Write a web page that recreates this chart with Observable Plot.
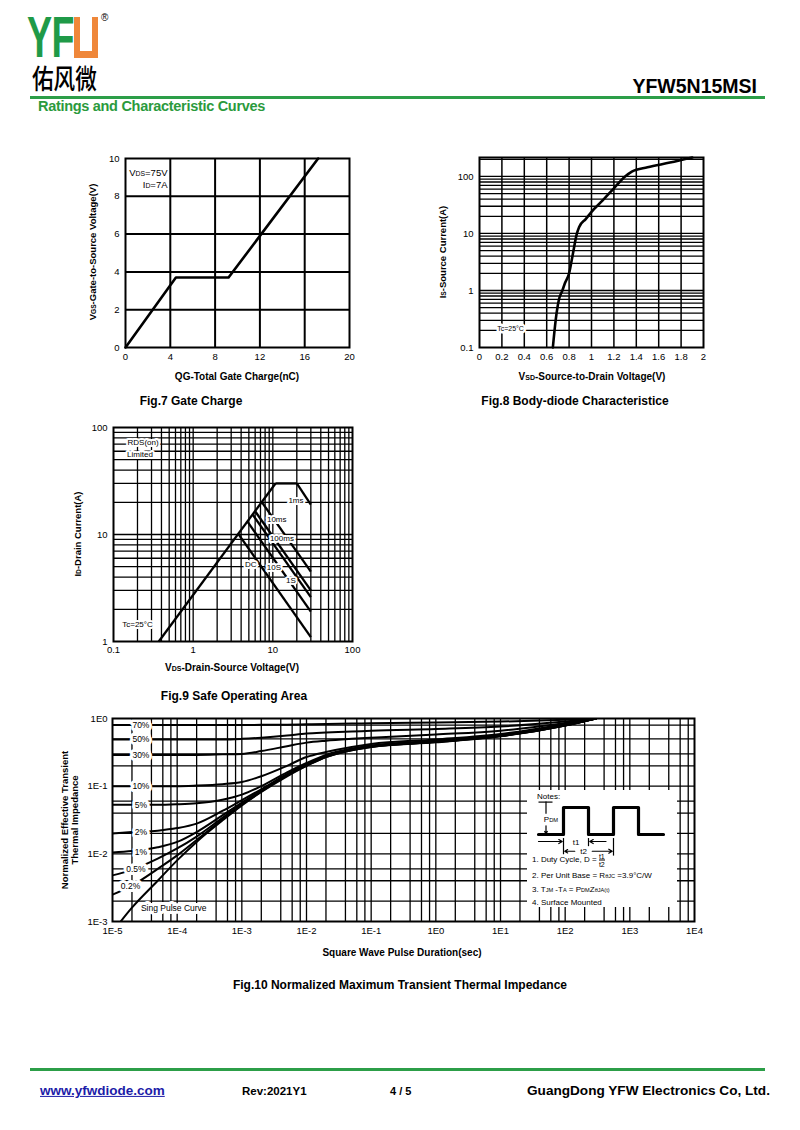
<!DOCTYPE html>
<html><head><meta charset="utf-8">
<script src="https://cdn.jsdelivr.net/npm/d3@7"></script>
<script src="https://cdn.jsdelivr.net/npm/@observablehq/plot@0.6"></script>
<style>
body{margin:0;background:#fff;}
#page{position:relative;width:800px;height:1130px;overflow:hidden;font-family:"Liberation Sans",Arial,sans-serif;color:#000;background:#fff;}
.s{font-size:70%;}
</style></head>
<body><div id="page"></div>
<script>
// ================= DATA =================
// Fig.7 Gate charge
const gateCharge = [0, 4.5, 9.2, 17.2];          // QG (nC)
const gateVoltage = [0, 3.7, 3.7, 10];           // VGS (V)
const gateXTicks = [0, 4, 8, 12, 16, 20];
const gateYTicks = [0, 2, 4, 6, 8, 10];
const gateNote = ["V{DS}=75V", "I{D}=7A"];
const gateNoteQ = [3.75, 3.75];
const gateNoteV = [9.25, 8.6];

// Fig.8 Body-diode characteristic
const diodeVsd = [0.655, 0.68, 0.71, 0.74, 0.76, 0.80, 0.83, 0.87, 0.89, 0.95, 1.0, 1.1, 1.2, 1.3, 1.36, 1.5, 1.7, 1.9];
const diodeIs  = [0.1, 0.3, 0.7, 1.0, 1.3, 2, 4, 10, 13, 18, 24, 38, 62, 100, 122, 145, 175, 215];
const diodeXTicks = [0, 0.2, 0.4, 0.6, 0.8, 1, 1.2, 1.4, 1.6, 1.8, 2];
const diodeYTicks = [0.1, 1, 10, 100];

// Fig.9 Safe operating area (segments)
const soaNames = ["RDS(on)", "Imax", "1ms", "10ms", "100ms", "1s", "10s", "DC"];
const soaV1 = [0.37, 10.8, 20, 7.3, 6.0, 5.6, 4.8, 3.7];
const soaI1 = [1, 30, 30, 20, 16.5, 15.3, 13.2, 10.1];
const soaV2 = [10.8, 20, 30, 30, 30, 30, 30, 30];
const soaI2 = [30, 30, 19, 4.5, 3.0, 2.6, 1.9, 1.1];
const soaXTicks = [0.1, 1, 10, 100];
const soaYTicks = [1, 10, 100];
const soaLabels = ["RDS(on)", "Limited", "1ms", "10ms", "100ms", "DC", "10S", "1S", "Tc=25°C"];
const soaLabelV = [0.235, 0.215, 19.5, 11.2, 13.0, 5.3, 10.3, 16.9, 0.2];
const soaLabelI = [72, 56, 21, 13.7, 9.1, 5.2, 4.9, 3.7, 1.43];

// Fig.10 Transient thermal impedance
const pulseTime = [1e-5, 2e-5, 5e-5, 1e-4, 2e-4, 5e-4, 1e-3, 2e-3, 5e-3, 1e-2, 2e-2, 5e-2, 1e-1, 1, 10, 100, 300];
const duty70  = [0.80, 0.80, 0.80, 0.80, 0.80, 0.80, 0.80, 0.805, 0.81, 0.82, 0.83, 0.84, 0.85, 0.87, 0.90, 0.96, 1.0];
const duty50  = [0.49, 0.49, 0.49, 0.49, 0.49, 0.49, 0.50, 0.52, 0.56, 0.60, 0.62, 0.64, 0.66, 0.70, 0.76, 0.90, 1.0];
const duty30  = [0.29, 0.29, 0.29, 0.29, 0.29, 0.295, 0.30, 0.33, 0.39, 0.44, 0.47, 0.50, 0.52, 0.58, 0.66, 0.86, 1.0];
const duty10  = [0.10, 0.10, 0.10, 0.10, 0.102, 0.107, 0.115, 0.14, 0.20, 0.27, 0.32, 0.38, 0.42, 0.49, 0.59, 0.83, 1.0];
const duty5   = [0.053, 0.053, 0.053, 0.054, 0.056, 0.063, 0.075, 0.10, 0.16, 0.22, 0.29, 0.36, 0.40, 0.47, 0.57, 0.81, 1.0];
const duty2   = [0.020, 0.021, 0.022, 0.024, 0.028, 0.043, 0.062, 0.09, 0.15, 0.21, 0.28, 0.35, 0.39, 0.46, 0.56, 0.80, 1.0];
const duty1   = [0.0105, 0.011, 0.0125, 0.015, 0.021, 0.037, 0.057, 0.087, 0.15, 0.21, 0.28, 0.35, 0.39, 0.455, 0.555, 0.80, 1.0];
const duty05  = [0.0048, 0.0058, 0.0085, 0.012, 0.018, 0.034, 0.055, 0.085, 0.145, 0.205, 0.275, 0.345, 0.385, 0.45, 0.55, 0.79, 1.0];
const duty02  = [0.0025, 0.0034, 0.006, 0.0095, 0.016, 0.032, 0.053, 0.083, 0.145, 0.20, 0.27, 0.34, 0.38, 0.45, 0.55, 0.79, 1.0];
const single  = [0.0007, 0.0016, 0.004, 0.008, 0.015, 0.031, 0.052, 0.082, 0.14, 0.20, 0.27, 0.34, 0.38, 0.445, 0.545, 0.79, 1.0];
const dutyNames = ["70%", "50%", "30%", "10%", "5%", "2%", "1%", "0.5%", "0.2%", "Single"];
const dutyLabelT = [2.75e-5, 2.75e-5, 2.75e-5, 2.75e-5, 2.75e-5, 2.75e-5, 2.75e-5, 2.3e-5, 1.9e-5];
const dutyLabelZ = [0.80, 0.49, 0.29, 0.10, 0.053, 0.021, 0.0104, 0.006, 0.0033];
const thermXTicks = [1e-5, 1e-4, 1e-3, 1e-2, 1e-1, 1, 10, 100, 1000, 10000];
const thermYTicks = [1e-3, 1e-2, 1e-1, 1];
// pulse sketch in the notes box
const pulseStepT = [0, 1, 1, 2, 2, 3, 3, 4, 4, 5];
const pulseStepP = [0, 0, 1, 1, 0, 0, 1, 1, 0, 0];

// ================= HELPERS =================
const page = document.getElementById("page");
const FONT = "Liberation Sans, Arial, sans-serif";
function put(node, left, top) {
  const d = document.createElement("div");
  d.style.cssText = `position:absolute;left:${left}px;top:${top}px;`;
  d.appendChild(node); page.appendChild(d); return d;
}
function txt(html, x, y, o = {}) {
  const d = document.createElement("div");
  const size = o.size ?? 10, w = o.bold === false ? "normal" : "bold";
  const tx = o.anchor === "start" ? "0" : o.anchor === "end" ? "-100%" : "-50%";
  d.style.cssText = `position:absolute;left:${x}px;top:${y}px;font-size:${size}px;font-weight:${w};white-space:nowrap;line-height:1.2;text-align:center;color:${o.color || "#000"};transform:translate(${tx},-50%)${o.rotate ? ` rotate(${o.rotate}deg)` : ""};${o.css || ""}`;
  d.innerHTML = html; page.appendChild(d); return d;
}
function box(x, y, w, h, bg) {
  const d = document.createElement("div");
  d.style.cssText = `position:absolute;left:${x}px;top:${y}px;width:${w}px;height:${h}px;background:${bg};`;
  page.appendChild(d); return d;
}
// turn "V{DS}" into V + small DS inside svg text
function subify(svg) {
  svg.querySelectorAll("text").forEach(t => {
    const s = t.textContent;
    if (!s.includes("{")) return;
    t.textContent = "";
    s.split(/(\{[^}]*\})/).forEach(part => {
      if (!part) return;
      const ts = document.createElementNS("http://www.w3.org/2000/svg", "tspan");
      if (part.startsWith("{")) { ts.textContent = part.slice(1, -1); ts.setAttribute("font-size", "0.72em"); }
      else ts.textContent = part;
      t.appendChild(ts);
    });
  });
  return svg;
}
const minor = (mant, decs) => decs.flatMap(d => mant.map(m => m * d));
const baseStyle = {fontFamily: FONT, fontSize: "9.5px", color: "#000", background: "none", overflow: "visible"};

// ================= HEADER =================
txt("YF", 27, 37, {size: 57, anchor: "start", color: "#1f9a48", css: "line-height:0.68;letter-spacing:-1px;transform:translate(0,-50%) scaleX(0.66);transform-origin:left center;"});
box(74, 17, 24, 41, "#ef873a");
box(80, 17, 12, 34, "#fff");
txt("®", 101, 18, {size: 10, bold: false, anchor: "start"});
txt("佑风微", 32, 78, {size: 27, anchor: "start", css: "line-height:0.95;font-family:'Noto Sans CJK SC';font-weight:500;transform:translate(0,-50%) scaleX(0.8);transform-origin:left center;"});
txt("YFW5N15MSI", 757, 87, {size: 19.5, anchor: "end"});
box(30, 96, 735, 2.5, "#2c9e48");
txt("Ratings and Characteristic Curves", 38, 107, {size: 14.5, anchor: "start", color: "#2b9a3d", css: "letter-spacing:-0.3px;"});

// ================= FIG 7 =================
const gateTable = gateCharge.map((q, i) => ({q, v: gateVoltage[i]}));
const fig7 = Plot.plot({
  width: 280, height: 225, marginLeft: 40, marginRight: 16, marginTop: 8, marginBottom: 28,
  style: baseStyle,
  x: {domain: [0, 20], ticks: gateXTicks, tickFormat: d => String(d), tickSize: 0, tickPadding: 6, label: null},
  y: {domain: [0, 10], ticks: gateYTicks, tickFormat: d => String(d), tickSize: 0, tickPadding: 6, label: null},
  marks: [
    Plot.ruleX(gateXTicks.slice(1, -1), {stroke: "#000", strokeWidth: 2}),
    Plot.ruleY(gateYTicks.slice(1, -1), {stroke: "#000", strokeWidth: 2}),
    Plot.line(gateTable, {x: "q", y: "v", stroke: "#000", strokeWidth: 2.6}),
    Plot.text(gateNote, {x: (d, i) => gateNoteQ[i], y: (d, i) => gateNoteV[i], text: d => d, textAnchor: "end", fontSize: 9.5}),
    Plot.frame({stroke: "#000", strokeWidth: 2})
  ]
});
put(subify(fig7), 85, 150);
txt("V<span class='s'>GS</span>-Gate-to-Source Voltage(V)", 93, 252, {size: 9.5, rotate: -90});
txt("QG-Total Gate Charge(nC)", 237, 377, {size: 10});
txt("Fig.7 Gate Charge", 191, 401, {size: 12});

// ================= FIG 8 =================
const diodeTable = diodeVsd.map((v, i) => ({v, i: diodeIs[i]}));
const diodeHGrid = minor([1, 2, 3, 4, 5, 6, 7, 8, 9], [0.1, 1, 10, 100]).filter(d => d > 0.1 && d <= 200);
const fig8 = Plot.plot({
  width: 280, height: 225, marginLeft: 39, marginRight: 17, marginTop: 7, marginBottom: 28,
  style: baseStyle,
  x: {domain: [0, 2], ticks: diodeXTicks, tickFormat: d => String(d), tickSize: 0, tickPadding: 6, label: null},
  y: {type: "log", domain: [0.1, 215], ticks: diodeYTicks, tickFormat: d => String(d), tickSize: 0, tickPadding: 6, label: null},
  marks: [
    Plot.ruleX(diodeXTicks.slice(1, -1), {stroke: "#000", strokeWidth: 1.5}),
    Plot.ruleY(diodeHGrid, {stroke: "#000", strokeWidth: 1.3}),
    Plot.line(diodeTable, {x: "v", y: "i", stroke: "#000", strokeWidth: 2.6, curve: "monotone-x"}),
    Plot.text(["Tc=25°C"], {x: 0.277, y: 0.213, text: d => d, fontSize: 7, stroke: "white", strokeWidth: 5, fill: "#000"}),
    Plot.frame({stroke: "#000", strokeWidth: 2})
  ]
});
put(fig8, 440, 150);
txt("I<span class='s'>S</span>-Source Current(A)", 443, 252, {size: 9.5, rotate: -90});
txt("V<span class='s'>SD</span>-Source-to-Drain Voltage(V)", 592, 377, {size: 10});
txt("Fig.8 Body-diode Characteristice", 575, 401, {size: 12});

// ================= FIG 9 =================
const soaTable = soaNames.map((n, i) => ({n, v1: soaV1[i], i1: soaI1[i], v2: soaV2[i], i2: soaI2[i]}));
const soaVGrid = minor([1, 2, 3, 4, 5, 6, 7, 8, 9], [0.1, 1, 10]).filter(d => d > 0.1);
const soaHGrid = minor([1, 2, 3, 4, 5, 6, 7, 8, 9], [1, 10]).filter(d => d > 1);
const soaLabelTable = soaLabels.map((t, i) => ({t, v: soaLabelV[i], i: soaLabelI[i]}));
const fig9 = Plot.plot({
  width: 290, height: 240, marginLeft: 43, marginRight: 8, marginTop: 7, marginBottom: 19,
  style: baseStyle,
  x: {type: "log", domain: [0.1, 100], ticks: soaXTicks, tickFormat: d => String(d), tickSize: 0, tickPadding: 5, label: null},
  y: {type: "log", domain: [1, 100], ticks: soaYTicks, tickFormat: d => String(d), tickSize: 0, tickPadding: 6, label: null},
  marks: [
    Plot.ruleX(soaVGrid, {stroke: "#000", strokeWidth: 1.3}),
    Plot.ruleY(soaHGrid, {stroke: "#000", strokeWidth: 1.3}),
    Plot.link(soaTable, {x1: "v1", y1: "i1", x2: "v2", y2: "i2", stroke: "#000", strokeWidth: 2.3}),
    Plot.text(soaLabelTable, {x: "v", y: "i", text: "t", fontSize: 8, stroke: "white", strokeWidth: 4, fill: "#000"}),
    Plot.frame({stroke: "#000", strokeWidth: 2})
  ]
});
put(fig9, 70, 420);
txt("I<span class='s'>D</span>-Drain Current(A)", 78, 534, {size: 9.5, rotate: -90});
txt("V<span class='s'>DS</span>-Drain-Source Voltage(V)", 232, 668, {size: 10});
txt("Fig.9 Safe Operating Area", 234, 696, {size: 12});

// ================= FIG 10 =================
const dutySeries = [duty70, duty50, duty30, duty10, duty5, duty2, duty1, duty05, duty02, single];
const thermTable = dutySeries.flatMap((s, k) => pulseTime.map((t, j) => ({d: dutyNames[k], t, z: s[j]})));
const thermVGrid = minor([1, 2, 4, 6, 8], [1e-5, 1e-4, 1e-3, 1e-2, 1e-1, 1, 10, 100, 1000]).filter(d => d > 1e-5);
const thermHGrid = [...minor([2, 4, 6], [1e-3, 1e-2]), 1e-2, 1e-1, 0.2, 0.3, 0.5, 0.8];
const dutyLabelTable = dutyLabelT.map((t, i) => ({t, z: dutyLabelZ[i], n: dutyNames[i]}));
const fig10 = Plot.plot({
  width: 650, height: 235, marginLeft: 57, marginRight: 11, marginTop: 8, marginBottom: 24,
  style: baseStyle,
  x: {type: "log", domain: [1e-5, 1e4], ticks: thermXTicks, tickFormat: d => "1E" + Math.round(Math.log10(d)), tickSize: 0, tickPadding: 6, label: null},
  y: {type: "log", domain: [1e-3, 1], ticks: thermYTicks, tickFormat: d => "1E" + Math.round(Math.log10(d)), tickSize: 0, tickPadding: 5, label: null},
  marks: [
    Plot.ruleX(thermVGrid, {stroke: "#000", strokeWidth: 1.3}),
    Plot.ruleY(thermHGrid, {stroke: "#000", strokeWidth: 1.3}),
    Plot.line(thermTable, {x: "t", y: "z", z: "d", stroke: "#000", strokeWidth: 2, curve: "monotone-x", clip: true}),
    Plot.text(dutyLabelTable, {x: "t", y: "z", text: "n", fontSize: 8.5, stroke: "white", strokeWidth: 6, fill: "#000"}),
    Plot.text(["Sing Pulse Curve"], {x: 2.75e-5, y: 0.00155, text: d => d, textAnchor: "start", fontSize: 8.5, stroke: "white", strokeWidth: 6, fill: "#000"}),
    Plot.frame({stroke: "#000", strokeWidth: 2})
  ]
});
put(fig10, 55, 710);
txt("Normalized Effective Transient<br>Thermal Impedance", 70, 820, {size: 9.5, rotate: -90, css: "line-height:1.05;"});
txt("Square Wave Pulse Duration(sec)", 402, 953, {size: 10});
txt("Fig.10 Normalized Maximum Transient Thermal Impedance", 400, 985, {size: 12});

// Notes box
box(527, 790, 150, 117, "#fff");
const noteTicks = [{x: 1, y1: -0.15, y2: -0.75}, {x: 2, y1: -0.15, y2: -0.45}, {x: 3, y1: -0.15, y2: -0.8}, {x: 0.3, y1: 0.75, y2: 1.2}];
const noteArrows = [{x1: 0.0, x2: 0.95, y: -0.26}, {x1: 2.7, x2: 2.05, y: -0.26}, {x1: 1.45, x2: 1.05, y: -0.62}, {x1: 2.15, x2: 2.95, y: -0.62}, {x1: 0.3, x2: 0.3, y: 0.32, y2: 0.03}];
const pulseTable = pulseStepT.map((t, i) => ({t, p: pulseStepP[i]}));
const notePlot = Plot.plot({
  width: 150, height: 70, marginLeft: 11, marginRight: 14, marginTop: 17, marginBottom: 26,
  style: {...baseStyle, fontSize: "8px"},
  x: {domain: [0, 5], axis: null}, y: {domain: [0, 1], axis: null},
  marks: [
    Plot.line(pulseTable, {x: "t", y: "p", stroke: "#000", strokeWidth: 3.2}),
    Plot.ruleX(noteTicks, {x: "x", y1: "y1", y2: "y2", stroke: "#000", strokeWidth: 1.2}),
    Plot.ruleY([1.2], {x1: 0.02, x2: 0.58, stroke: "#000", strokeWidth: 1.2}),
    Plot.arrow(noteArrows, {x1: "x1", x2: "x2", y1: "y", y2: d => d.y2 ?? d.y, stroke: "#000", strokeWidth: 1.2, headLength: 5}),
    Plot.text(["P{DM}"], {x: 0.5, y: 0.55, text: d => d, fontSize: 8}),
    Plot.text(["t1"], {x: 1.5, y: -0.28, text: d => d, fontSize: 8}),
    Plot.text(["t2"], {x: 1.8, y: -0.62, text: d => d, fontSize: 8})
  ]
});
put(subify(notePlot), 527, 790);
txt("Notes:", 537, 797, {size: 8, bold: false, anchor: "start"});
txt("1. Duty Cycle, D = <span style='display:inline-block;vertical-align:middle;text-align:center;font-size:7px;line-height:1'><span style='display:block;border-bottom:1px solid #000'>t1</span><span style='display:block'>t2</span></span>", 532, 860, {size: 8, bold: false, anchor: "start"});
txt("2. Per Unit Base = R<span class='s'>θJC</span> =3.9°C/W", 532, 876, {size: 8, bold: false, anchor: "start"});
txt("3. T<span class='s'>JM</span> -T<span class='s'>A</span> = P<span class='s'>DM</span>Z<span class='s'>θJA</span><span class='s'>(t)</span>", 532, 890, {size: 8, bold: false, anchor: "start"});
txt("4. Surface Mounted", 532, 903, {size: 8, bold: false, anchor: "start"});

// ================= FOOTER =================
box(30, 1068, 735, 2.5, "#2c9e48");
txt("www.yfwdiode.com", 40, 1091, {size: 13.5, anchor: "start", color: "#1c1ca8", css: "text-decoration:underline;"});
txt("Rev:2021Y1", 242, 1092, {size: 11.5, anchor: "start"});
txt("4 / 5", 390, 1092, {size: 11, anchor: "start"});
txt("GuangDong YFW Electronics Co, Ltd.", 527, 1091, {size: 13.6, anchor: "start"});
</script>
</body></html>
